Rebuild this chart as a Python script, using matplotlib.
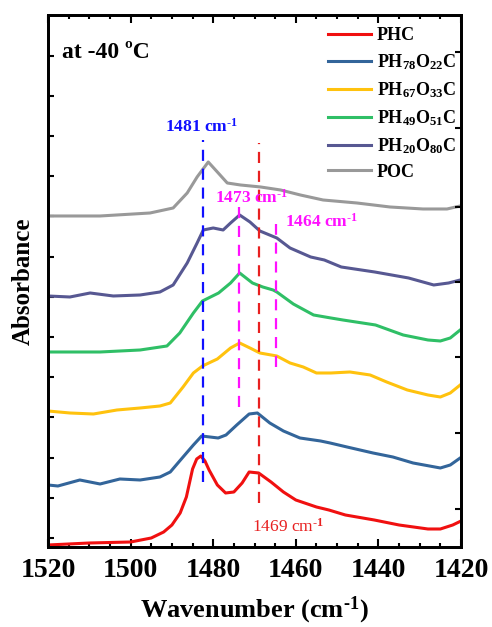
import matplotlib
matplotlib.use("Agg")
import matplotlib.pyplot as plt
from matplotlib.ticker import MultipleLocator, FixedLocator

plt.rcParams['font.family'] = ['Liberation Serif', 'DejaVu Serif']
plt.rcParams['font.weight'] = 'bold'
plt.rcParams['axes.labelweight'] = 'bold'
plt.rcParams['mathtext.fontset'] = 'custom'
plt.rcParams['mathtext.rm'] = 'Liberation Serif:bold'
plt.rcParams['mathtext.bf'] = 'Liberation Serif:bold'
plt.rcParams['mathtext.default'] = 'bf'

# FTIR spectra, offset for clarity (arbitrary units)
phc_wn = [1520, 1510, 1500, 1495, 1492, 1490, 1488, 1486.5, 1485, 1484, 1483, 1482, 1481, 1479,
          1477, 1475, 1473, 1471.3, 1469, 1466, 1463, 1460, 1455, 1452, 1448, 1441, 1435, 1428,
          1425, 1422, 1420]
phc = [2, 4, 5, 9, 15, 22, 34, 50, 78, 88, 91, 86, 77, 62,
       54, 55, 64, 75, 74, 65, 55, 47, 40, 37, 32, 27, 22, 18,
       18, 22, 26]

ph78_wn = [1520, 1517.6, 1512.3, 1507.4, 1502.6, 1497.7, 1492.9, 1490.4, 1487.3, 1484.8, 1482.8,
           1478.8, 1476.9, 1474.3, 1471.3, 1469.3, 1466.3, 1463, 1459, 1454, 1451.7, 1447.6,
           1441.3, 1436.5, 1431.6, 1425, 1422.6, 1420.2]
ph78 = [62, 61, 67, 63, 68, 67, 70, 75, 90, 102, 111,
        109, 112, 122, 133, 134, 124, 116, 109, 106, 104, 100,
        94, 90, 84, 79, 82, 89]

ph67_wn = [1520, 1514.7, 1509, 1503.3, 1497.7, 1492.9, 1490.4, 1487.3, 1484.8, 1482.6, 1479,
           1475.8, 1473.6, 1471.1, 1468.7, 1464.6, 1461.4, 1458.2, 1455, 1451.5, 1446.9, 1442,
           1438, 1433, 1428, 1425, 1422.6, 1420.2]
ph67 = [136, 134, 133, 137, 139, 141, 144, 160, 174, 181, 188,
        199, 204, 199, 194, 191, 184, 180, 174, 174, 175, 172,
        165, 157, 152, 150, 154, 162]

ph49_wn = [1520, 1507.4, 1497.7, 1491.2, 1488.1, 1484.8, 1482.6, 1478.7, 1475.8, 1473.6, 1470.5,
           1468, 1465.5, 1464.6, 1460.6, 1455.7, 1451.5, 1448.6, 1440.7, 1434, 1428, 1425,
           1422.6, 1420.2]
ph49 = [195, 195, 197, 201, 214, 234, 246, 254, 264, 274, 264,
        260, 257, 255, 243, 232, 229, 227, 222, 212, 207, 206,
        209, 217]

ph20_wn = [1520, 1514.7, 1509.8, 1504.2, 1497.7, 1492.9, 1489.7, 1486.3, 1483.9, 1482.4, 1480,
           1477.6, 1475.8, 1473.6, 1471.1, 1468.7, 1464.6, 1461.4, 1456.4, 1453.1, 1449, 1440.9,
           1432.7, 1426.6, 1423, 1420.2]
ph20 = [251, 250, 254, 251, 252, 255, 262, 284, 304, 317, 319,
        317, 324, 332, 325, 316, 309, 299, 290, 287, 280, 275,
        269, 262, 264, 267]

poc_wn = [1520, 1507.4, 1495.3, 1489.7, 1486.3, 1483.9, 1481.2, 1479, 1476.6, 1473.4, 1468.5,
          1463.7, 1458.9, 1453.4, 1445.2, 1437.2, 1429.2, 1423.4, 1420.2]
poc = [331, 331, 334, 339, 354, 370, 385, 375, 364, 362, 360,
       357, 352, 347, 344, 340, 338, 338, 341]

labels = ['PHC', 'PH$_{78}$O$_{22}$C', 'PH$_{67}$O$_{33}$C',
          'PH$_{49}$O$_{51}$C', 'PH$_{20}$O$_{80}$C', 'POC']
colors = ['#f01010', '#33659a', '#ffc20e', '#2fbf66', '#575892', '#999999']

inv_cm = 'cm$^{\u2010 1}$'

# peak markers: position, bottom, top, label, colour
peak_pos = [1482.5, 1473.7, 1464.8, 1469.0]
peak_lo = [65, 140, 180, 44]
peak_hi = [407, 340, 323, 404]
peak_labels = ['1481 ' + inv_cm, '1473 ' + inv_cm, '1464 ' + inv_cm, '1469 ' + inv_cm]
peak_colors = ['#1010ff', '#ff10ff', '#ff10ff', '#e82020']

fig = plt.figure(figsize=(4.92, 6.27), dpi=100)
ax = fig.add_axes([0.0976, 0.1276, 0.8394, 0.8485])

series = [(phc_wn, phc), (ph78_wn, ph78), (ph67_wn, ph67),
          (ph49_wn, ph49), (ph20_wn, ph20), (poc_wn, poc)]
for (wn, ab), lab, c in zip(series, labels, colors):
    ax.plot(wn, ab, color=c, lw=2.2, label=lab, solid_joinstyle='round')

for p, lo, hi, c in zip(peak_pos, peak_lo, peak_hi, peak_colors):
    ax.plot([p, p], [lo, hi], color=c, lw=1.6, ls=(0, (5, 3.5)))

ax.text(1491.7, 420, peak_labels[0], color=peak_colors[0], fontsize=12.5, va='center')
ax.text(1479.6, 349, peak_labels[1], color=peak_colors[1], fontsize=12.5, va='center')
ax.text(1462.6, 325, peak_labels[2], color=peak_colors[2], fontsize=12.5, va='center')
ax.text(1470.6, 20, peak_labels[3], color=peak_colors[3], fontsize=12.5, va='center',
        fontweight='normal')

ax.text(0.034, 0.929, 'at -40 ºC', transform=ax.transAxes, fontsize=17, va='center')

ax.set_xlim(1520, 1420)
ax.set_ylim(0, 532)
ax.xaxis.set_major_locator(MultipleLocator(20))
ax.xaxis.set_minor_locator(MultipleLocator(5))
ax.yaxis.set_major_locator(FixedLocator([9 + 40.2 * i for i in range(13)]))
ax.set_yticklabels([])
ax.tick_params(axis='both', which='both', direction='in', width=1.5)
ax.tick_params(axis='x', which='major', length=6, labelsize=20, pad=8, top=True)
ax.tick_params(axis='x', which='minor', length=3, top=True)
ax.tick_params(axis='y', which='major', length=4, left=True, right=False)

# right-hand ticks sit on their own spacing
ax2 = ax.twinx()
ax2.set_ylim(0, 532)
ax2.yaxis.set_major_locator(FixedLocator([38, 114, 190, 265, 340, 419, 495]))
ax2.set_yticklabels([])
ax2.tick_params(axis='y', direction='in', length=4, width=1.5)

for a in (ax, ax2):
    for s in a.spines.values():
        s.set_linewidth(2.0)

ax.set_xlabel('Wavenumber (' + inv_cm + ')', fontsize=19, labelpad=8)
ax.set_ylabel('Absorbance', fontsize=18, labelpad=6)

ax.legend(loc='upper left', bbox_to_anchor=(0.678, 0.977), frameon=False, fontsize=13,
          handlelength=2.4, handletextpad=0.3, labelspacing=0.45, borderpad=0,
          borderaxespad=0)

fig.savefig('out.png', dpi=100)
